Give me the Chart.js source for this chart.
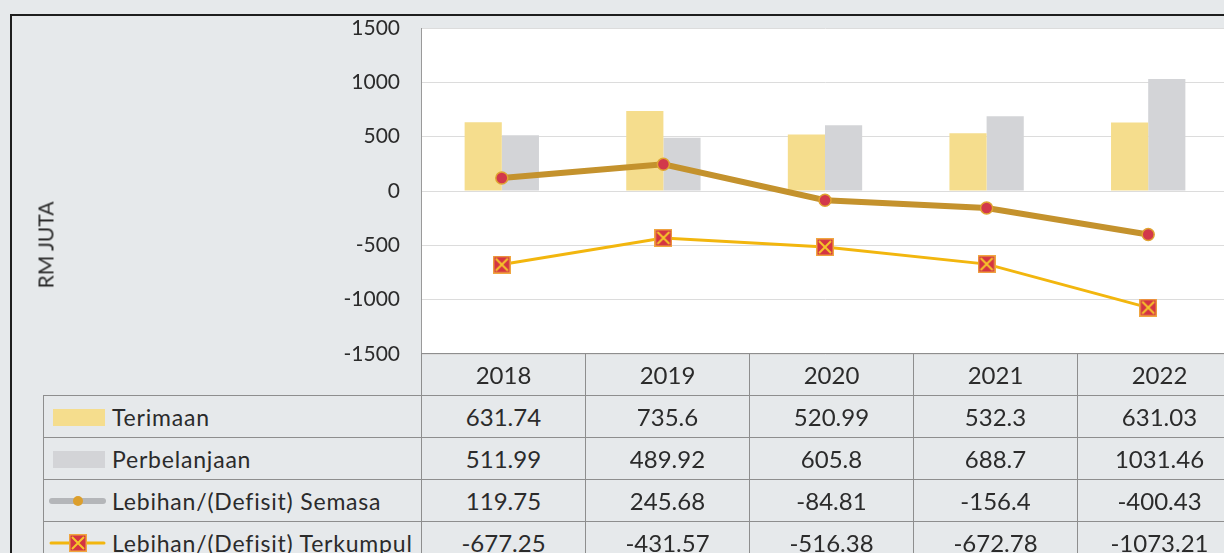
<!DOCTYPE html>
<html>
<head>
<meta charset="utf-8">
<script src="https://cdn.jsdelivr.net/npm/chart.js@4"></script>
<style>
    html, body {
        margin: 0;
        padding: 0;
        width: 1224px;
        height: 553px;
        overflow: hidden;
        background: #e6e9eb;
        font-family: Lato, "Noto Sans", sans-serif;
        color: #2b2b2b;
    }
    #frame {
        position: absolute;
        left: 10px;
        top: 14px;
        width: 1300px;
        height: 600px;
        border-top: 2px solid #1e1e1e;
        border-left: 2px solid #1e1e1e;
    }
    #chart {
        position: absolute;
        left: 0;
        top: 0;
    }
    #yTitle {
        position: absolute;
        left: 45px;
        top: 245px;
        transform: translate(-50%, -50%) rotate(-90deg);
        font-size: 21px;
        white-space: nowrap;
    }
    .cell {
        position: absolute;
        box-sizing: border-box;
        height: 42px;
        line-height: 42px;
        font-size: 24px;
        text-align: center;
        border-top: 1px solid #8e8e8e;
        border-left: 1px solid #8e8e8e;
        white-space: nowrap;
    }
    .cell.legend {
        text-align: left;
        font-size: 23px;
        padding-left: 68px;
        letter-spacing: 0.8px;
    }
    .swatch {
        position: absolute;
        left: 9px;
        top: 13px;
        width: 52px;
        height: 17px;
    }
</style>
</head>
<body>
<div id="frame"></div>
<canvas id="chart" width="1241" height="367"></canvas>
<div id="yTitle">RM JUTA</div>
<div id="table"></div>
<script>
    const years = ["2018", "2019", "2020", "2021", "2022"];
    const terimaan = [631.74, 735.6, 520.99, 532.3, 631.03];
    const perbelanjaan = [511.99, 489.92, 605.8, 688.7, 1031.46];
    const semasa = [119.75, 245.68, -84.81, -156.4, -400.43];
    const terkumpul = [-677.25, -431.57, -516.38, -672.78, -1073.21];
    const yTicks = [-1500, -1000, -500, 0, 500, 1000, 1500];

    const seriesNames = ["Terimaan", "Perbelanjaan", "Lebihan/(Defisit) Semasa", "Lebihan/(Defisit) Terkumpul"];
    const seriesValues = [terimaan, perbelanjaan, semasa, terkumpul];

    const colors = {
        terimaan: "#f5dd8d",
        perbelanjaan: "#d3d4d7",
        semasa: "#c4922d",
        semasaPoint: "#d2384b",
        terkumpul: "#f2b60e"
    };

    const makeCrossMarker = () => {
        const c = document.createElement("canvas");
        c.width = 18;
        c.height = 18;
        const ctx = c.getContext("2d");
        ctx.fillStyle = "#d43443";
        ctx.fillRect(0, 0, 18, 18);
        ctx.strokeStyle = "#f0a640";
        ctx.lineWidth = 1.5;
        ctx.strokeRect(0.75, 0.75, 16.5, 16.5);
        ctx.strokeStyle = "#f6c62a";
        ctx.lineWidth = 2;
        ctx.beginPath();
        ctx.moveTo(3, 3);
        ctx.lineTo(15, 15);
        ctx.moveTo(15, 3);
        ctx.lineTo(3, 15);
        ctx.stroke();
        return c;
    };

    const plotBackground = {
        id: "plotBackground",
        beforeDraw(chart) {
            const { ctx, chartArea } = chart;
            ctx.save();
            ctx.fillStyle = "#ffffff";
            ctx.fillRect(chartArea.left, chartArea.top, chartArea.right - chartArea.left, chartArea.bottom - chartArea.top);
            ctx.restore();
        }
    };

    new Chart(document.getElementById("chart"), {
        type: "bar",
        data: {
            labels: years,
            datasets: [
                {
                    type: "line",
                    label: seriesNames[2],
                    data: semasa,
                    order: 1,
                    borderColor: colors.semasa,
                    borderWidth: 6,
                    pointRadius: 6,
                    pointBackgroundColor: colors.semasaPoint,
                    pointBorderColor: "#e0a332",
                    pointBorderWidth: 1.5,
                    tension: 0
                },
                {
                    type: "line",
                    label: seriesNames[3],
                    data: terkumpul,
                    order: 0,
                    borderColor: colors.terkumpul,
                    borderWidth: 3,
                    pointStyle: makeCrossMarker(),
                    pointRadius: 9,
                    tension: 0
                },
                {
                    label: seriesNames[0],
                    data: terimaan,
                    order: 2,
                    backgroundColor: colors.terimaan,
                    categoryPercentage: 0.46,
                    barPercentage: 1
                },
                {
                    label: seriesNames[1],
                    data: perbelanjaan,
                    order: 2,
                    backgroundColor: colors.perbelanjaan,
                    categoryPercentage: 0.46,
                    barPercentage: 1
                }
            ]
        },
        options: {
            responsive: false,
            animation: false,
            events: [],
            layout: {
                padding: { top: 28, bottom: 13, left: 0, right: 0 }
            },
            plugins: {
                legend: { display: false },
                tooltip: { enabled: false }
            },
            scales: {
                x: {
                    display: false,
                    offset: true
                },
                y: {
                    min: -1500,
                    max: 1500,
                    afterBuildTicks: (scale) => {
                        scale.ticks = yTicks.map((v) => ({ value: v }));
                    },
                    afterFit: (scale) => {
                        scale.width = 421;
                    },
                    border: {
                        display: true,
                        color: "#9a9a9a",
                        width: 1
                    },
                    grid: {
                        color: "#dcdcdc",
                        tickColor: "transparent",
                        tickLength: 21
                    },
                    ticks: {
                        color: "#2b2b2b",
                        padding: 0,
                        font: { family: "Lato", size: 21 },
                        callback: (v) => String(v)
                    }
                }
            }
        },
        plugins: [plotBackground]
    });

    // data table under the plot
    const table = document.getElementById("table");
    const rowTop = 353;
    const rowH = 42;
    const legendLeft = 43;
    const colLeft = 421;
    const colW = 164;

    const addCell = (x, y, w, text, cls) => {
        const d = document.createElement("div");
        d.className = "cell" + (cls ? " " + cls : "");
        d.style.left = x + "px";
        d.style.top = y + "px";
        d.style.width = w + "px";
        d.textContent = text;
        table.appendChild(d);
        return d;
    };

    years.forEach((yr, i) => addCell(colLeft + i * colW, rowTop, colW, yr));

    const makeSwatch = (i) => {
        if (i < 2) {
            const s = document.createElement("div");
            s.className = "swatch";
            s.style.background = i === 0 ? colors.terimaan : colors.perbelanjaan;
            return s;
        }
        const c = document.createElement("canvas");
        c.width = 60;
        c.height = 20;
        c.style.position = "absolute";
        c.style.left = "4px";
        c.style.top = "11px";
        const ctx = c.getContext("2d");
        ctx.lineCap = "round";
        if (i === 2) {
            ctx.strokeStyle = "#b4b6b9";
            ctx.lineWidth = 6;
            ctx.beginPath();
            ctx.moveTo(4, 10);
            ctx.lineTo(55, 10);
            ctx.stroke();
            ctx.fillStyle = "#dc9f2c";
            ctx.beginPath();
            ctx.arc(30, 10, 5, 0, Math.PI * 2);
            ctx.fill();
        } else {
            ctx.strokeStyle = colors.terkumpul;
            ctx.lineWidth = 3;
            ctx.beginPath();
            ctx.moveTo(3, 10);
            ctx.lineTo(56, 10);
            ctx.stroke();
            ctx.drawImage(makeCrossMarker(), 21, 1);
        }
        return c;
    };

    seriesNames.forEach((name, r) => {
        const y = rowTop + (r + 1) * rowH;
        const lc = addCell(legendLeft, y, colLeft - legendLeft, name, "legend");
        lc.appendChild(makeSwatch(r));
        seriesValues[r].forEach((v, i) => addCell(colLeft + i * colW, y, colW, String(v)));
    });
</script>
</body>
</html>
